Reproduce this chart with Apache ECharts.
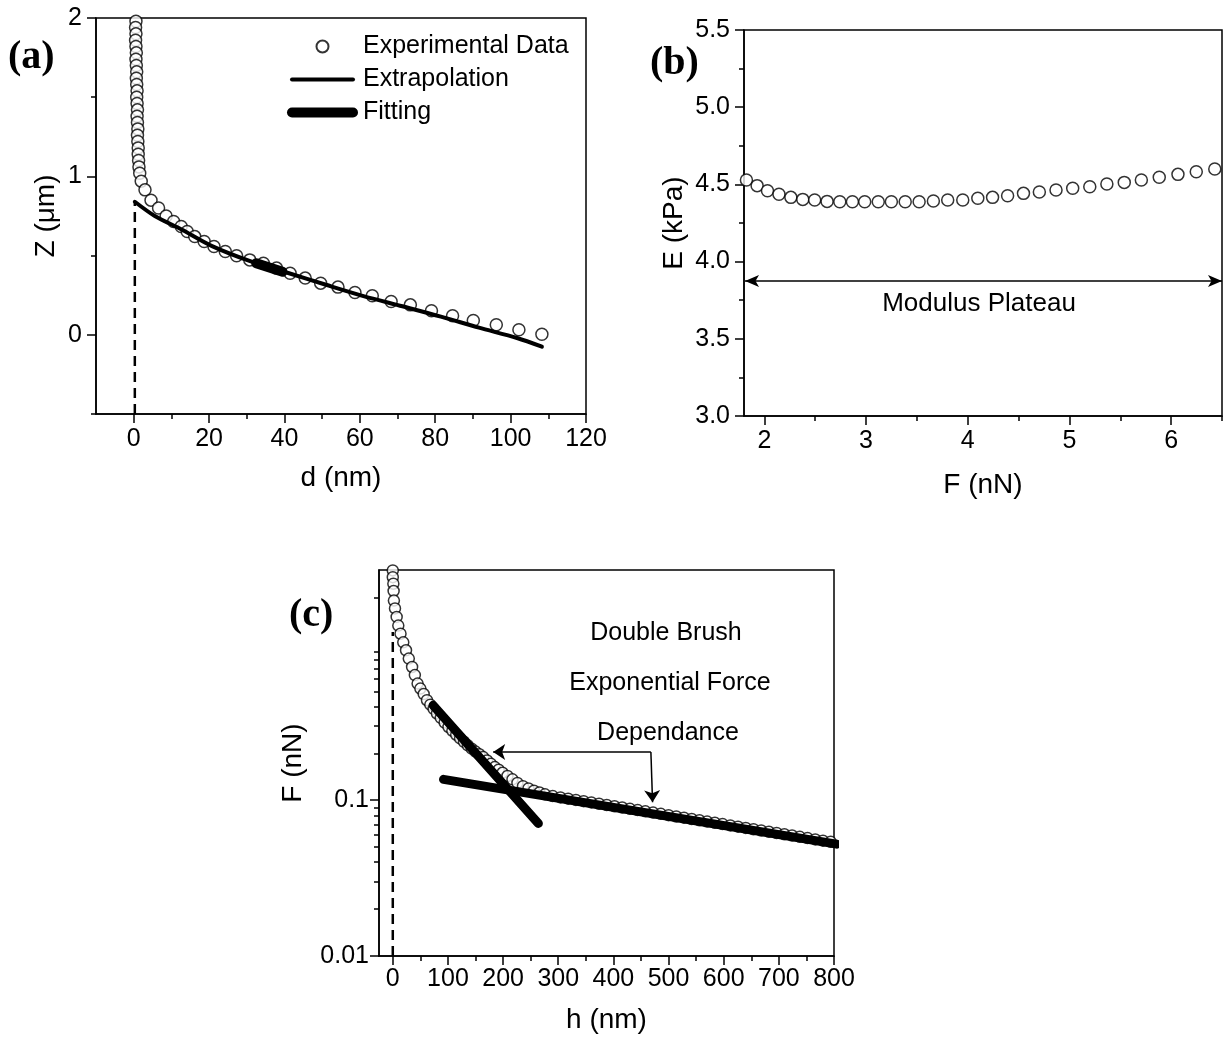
<!DOCTYPE html>
<html>
<head>
<meta charset="utf-8">
<script src="https://cdn.jsdelivr.net/npm/echarts@6.0.0/dist/echarts.min.js"></script>
<style>
  html, body { margin: 0; padding: 0; background: #fff; }
  #chart { width: 1223px; height: 1045px; }
</style>
</head>
<body>
<div id="chart"></div>
<script>
// ---- panel (a): Z vs d ----
var expA = [
    [0.6,1.98],[0.5,1.94],[0.6,1.90],[0.5,1.86],[0.6,1.82],[0.7,1.78],[0.6,1.74],[0.7,1.70],
    [0.8,1.66],[0.7,1.62],[0.8,1.58],[0.9,1.54],[0.8,1.50],[0.9,1.46],[1.0,1.42],[0.9,1.38],
    [1.0,1.34],[1.1,1.30],[1.0,1.26],[1.1,1.22],[1.2,1.18],[1.2,1.14],[1.3,1.10],[1.4,1.06],
    [1.6,1.02],[2.0,0.97],[3.0,0.915],[4.6,0.85],[6.6,0.80],[8.6,0.75],[10.6,0.715],[12.6,0.684],
    [14.2,0.652],[16.2,0.62],[18.7,0.589],[21.3,0.557],[24.3,0.526],[27.3,0.499],[30.8,0.473],
    [34.4,0.452],[37.9,0.421],[41.5,0.389],[45.5,0.358],[49.6,0.326],[54.2,0.301],[58.7,0.267],
    [63.3,0.246],[68.3,0.21],[73.4,0.189],[79,0.152],[84.6,0.12],[90.1,0.09],[96.2,0.063],
    [102.2,0.032],[108.3,0.004]
];
var extrapA = [
    [0.3,0.84],[5.6,0.75],[12.7,0.665],[20.8,0.56],[30.9,0.465],[41,0.39],[51,0.316],
    [61.2,0.243],[71.3,0.18],[81.5,0.115],[91.6,0.045],[101.7,-0.02],[108.3,-0.075]
];
var fitA = [[32.5,0.452],[39.5,0.398]];
var zeroLineA = [[0.3,-0.5],[0.3,0.84]];
var xTicksA = [0,20,40,60,80,100,120];
var xMinorA = [10,30,50,70,90,110];
var yTicksA = [0,1,2];
var yMinorA = [-0.5,0.5,1.5];

// ---- panel (b): E vs F ----
var forceB = [1.824,1.929,2.031,2.144,2.261,2.378,2.495,2.617,2.742,2.866,2.987,3.120,3.249,
    3.385,3.522,3.662,3.803,3.951,4.099,4.244,4.392,4.548,4.704,4.868,5.032,5.200,5.368,5.539,
    5.707,5.883,6.067,6.247,6.429];
var modulusB = [4.528,4.492,4.459,4.436,4.416,4.403,4.399,4.390,4.388,4.388,4.388,4.388,4.388,
    4.388,4.388,4.393,4.399,4.399,4.410,4.416,4.427,4.442,4.451,4.464,4.475,4.485,4.503,4.513,
    4.528,4.546,4.565,4.582,4.600];
var plateauB = [[1.81,3.875],[6.5,3.875]];
var xTicksB = [2,3,4,5,6];
var xMinorB = [2.5,3.5,4.5,5.5,6.5];

// ---- panel (c): F vs h (log) ----
var expC = [
    [0,2.98],[0,2.7],[1,2.45],[1.5,2.2],[2,1.91],[4,1.7],[7,1.5],[10,1.32],[14,1.17],[19,1.03],
    [24,0.916],[29,0.81],[35,0.716],[40,0.635],[45,0.56],[50,0.52],[56,0.48],[62,0.438],[68,0.41],
    [74,0.385],[80,0.36],[87,0.337],[94,0.315],[101,0.295],[108,0.279],[115,0.263],[122,0.249],
    [129,0.237],[136,0.225],[143,0.214],[150,0.205],[157,0.197],[164,0.189],[171,0.18],[178,0.171],
    [185,0.163],[192,0.157],[199,0.15],[208,0.143],[217,0.136],[226,0.129],[236,0.123],[246,0.119],
    [256,0.115],[266,0.112],[276,0.109],[290,0.1062],[304,0.1042],[318,0.1023],[332,0.1004],
    [346,0.0986],[360,0.0967],[374,0.0949],[388,0.0931],[402,0.0914],[416,0.0897],[430,0.088],
    [444,0.0864],[458,0.0848],[472,0.0832],[486,0.0817],[500,0.0801],[514,0.0786],[528,0.0772],
    [542,0.0757],[556,0.0743],[570,0.0729],[584,0.0716],[598,0.0702],[612,0.0689],[626,0.0676],
    [640,0.0664],[654,0.0651],[668,0.0639],[682,0.0627],[696,0.0616],[710,0.0604],[724,0.0593],
    [738,0.0582],[752,0.0571],[766,0.056],[780,0.055],[794,0.054]
];
var fit1C = [[73,0.406],[264,0.0709]];
var fit2C = [[92,0.136],[805,0.0522]];
var zeroLineC = [[0,0.01],[0,1.2]];
var arrowCorner = [468,0.204];
var arrowLeft = [182,0.204];
var arrowDown = [471,0.097];
var xTicksC = [0,100,200,300,400,500,600,700,800];
var xMinorC = [50,150,250,350,450,550,650,750];
var yTicksC = [0.01,0.1];
var yMinorC = [0.02,0.03,0.04,0.05,0.06,0.07,0.08,0.09,0.2,0.3,0.4,0.5,0.6,0.7,0.8,0.9,2];

var FONT = '"Liberation Sans", Arial, sans-serif';
var BLACK = '#000';

function mainAxis(o) {
    var ax = {
        type: o.type || 'value',
        gridIndex: o.grid,
        position: o.position,
        min: o.min, max: o.max,
        name: o.name,
        nameLocation: 'middle',
        nameGap: o.nameGap,
        nameRotate: o.nameRotate,
        nameTextStyle: {fontFamily: FONT, fontSize: 28, color: BLACK},
        axisLine: {show: true, onZero: false, lineStyle: {color: BLACK, width: 1.5}},
        axisTick: {show: true, inside: false, length: 9, lineStyle: {color: BLACK, width: 1.5}},
        axisLabel: {fontFamily: FONT, fontSize: 25, color: BLACK, margin: o.margin,
            formatter: o.formatter},
        splitLine: {show: false}
    };
    if (o.ticks) {
        ax.axisTick.customValues = o.ticks;
        ax.axisLabel.customValues = o.ticks;
    }
    if (o.interval) ax.interval = o.interval;
    if (o.minor) {
        ax.minorTick = {show: true, splitNumber: o.minor, length: 5, lineStyle: {color: BLACK, width: 1.5}};
    }
    if (o.type === 'log') ax.logBase = 10;
    return ax;
}

function minorAxis(o) {
    return {
        type: o.type || 'value',
        gridIndex: o.grid,
        position: o.position,
        min: o.min, max: o.max,
        logBase: 10,
        axisLine: {show: false, onZero: false},
        axisTick: {show: true, inside: false, length: 5, customValues: o.ticks,
            lineStyle: {color: BLACK, width: 1.5}},
        axisLabel: {show: false},
        splitLine: {show: false}
    };
}

var circleStyle = {color: '#fff', borderColor: BLACK, borderWidth: 1.5};

var myChart = echarts.init(document.getElementById('chart'));

var option = {
    backgroundColor: '#fff',
    animation: false,
    grid: [
        {left: 96, top: 18, width: 490, height: 396, show: true, borderColor: BLACK, borderWidth: 1.5},
        {left: 744, top: 30, width: 478, height: 386, show: true, borderColor: BLACK, borderWidth: 1.5},
        {left: 379, top: 570, width: 455, height: 386, show: true, borderColor: BLACK, borderWidth: 1.5}
    ],
    legend: {
        data: [
            {name: 'Experimental Data'},
            {name: 'Extrapolation', itemStyle: {opacity: 0}, lineStyle: {width: 4, color: BLACK}},
            {name: 'Fitting', itemStyle: {opacity: 0}, lineStyle: {width: 10, color: BLACK, cap: 'round'}}
        ],
        orient: 'vertical',
        left: 287, top: 34,
        itemWidth: 61, itemHeight: 12, itemGap: 8,
        padding: 0,
        selectedMode: false,
        textStyle: {fontFamily: FONT, fontSize: 25, color: BLACK, lineHeight: 24, padding: [0, 0, 0, 5]}
    },
    xAxis: [
        mainAxis({grid: 0, position: 'bottom', min: -10, max: 120, ticks: xTicksA, name: 'd (nm)',
            nameGap: 50, margin: 13}),
        minorAxis({grid: 0, position: 'bottom', min: -10, max: 120, ticks: xMinorA}),
        mainAxis({grid: 1, position: 'bottom', min: 1.8, max: 6.5, ticks: xTicksB, name: 'F (nN)',
            nameGap: 55, margin: 13}),
        minorAxis({grid: 1, position: 'bottom', min: 1.8, max: 6.5, ticks: xMinorB}),
        mainAxis({grid: 2, position: 'bottom', min: -25, max: 800, ticks: xTicksC, name: 'h (nm)',
            nameGap: 50, margin: 11}),
        minorAxis({grid: 2, position: 'bottom', min: -25, max: 800, ticks: xMinorC})
    ],
    yAxis: [
        mainAxis({grid: 0, position: 'left', min: -0.5, max: 2, ticks: yTicksA, name: 'Z (\u03bcm)',
            nameGap: 36, nameRotate: 90, margin: 14}),
        minorAxis({grid: 0, position: 'left', min: -0.5, max: 2, ticks: yMinorA}),
        mainAxis({grid: 1, position: 'left', min: 3, max: 5.5, interval: 0.5, minor: 2, name: 'E (kPa)',
            nameGap: 56, nameRotate: 90, margin: 14,
            formatter: function (v) { return v.toFixed(1); }}),
        mainAxis({grid: 2, type: 'log', position: 'left', min: 0.01, max: 3, ticks: yTicksC, name: 'F (nN)',
            nameGap: 72, nameRotate: 90, margin: 10,
            formatter: function (v) { return String(v); }}),
        minorAxis({grid: 2, type: 'log', position: 'left', min: 0.01, max: 3, ticks: yMinorC})
    ],
    series: [
        // (a)
        {name: 'Experimental Data', type: 'scatter', xAxisIndex: 0, yAxisIndex: 0,
            data: expA, symbol: 'circle', symbolSize: 12, itemStyle: circleStyle, z: 2},
        {name: 'Extrapolation', type: 'line', xAxisIndex: 0, yAxisIndex: 0, data: extrapA,
            smooth: 0.3, showSymbol: false, symbol: 'none', clip: false,
            lineStyle: {color: BLACK, width: 4, cap: 'round'}, itemStyle: {color: BLACK}, z: 3},
        {name: 'Fitting', type: 'line', xAxisIndex: 0, yAxisIndex: 0, data: fitA,
            showSymbol: false, symbol: 'none',
            lineStyle: {color: BLACK, width: 10, cap: 'round'}, itemStyle: {color: BLACK}, z: 4},
        {name: 'zeroA', type: 'line', xAxisIndex: 0, yAxisIndex: 0, data: zeroLineA,
            showSymbol: false, symbol: 'none',
            lineStyle: {color: BLACK, width: 2.5, type: [10, 6]}, z: 1},
        // (b)
        {name: 'modulus', type: 'scatter', xAxisIndex: 2, yAxisIndex: 2,
            data: forceB.map(function (f, i) { return [f, modulusB[i]]; }),
            symbol: 'circle', symbolSize: 12, itemStyle: circleStyle, clip: false, z: 2,
            markLine: {
                silent: true, symbol: ['arrow', 'arrow'], symbolSize: [9, 14],
                lineStyle: {color: BLACK, width: 1.5, type: 'solid'},
                label: {show: false},
                data: [[{coord: plateauB[0]}, {coord: plateauB[1]}]]
            }},
        // (c)
        {name: 'forceC', type: 'scatter', xAxisIndex: 4, yAxisIndex: 3, data: expC,
            symbol: 'circle', symbolSize: 11, itemStyle: circleStyle, clip: false, z: 2},
        {name: 'fit1C', type: 'line', xAxisIndex: 4, yAxisIndex: 3, data: fit1C,
            showSymbol: false, symbol: 'none', clip: false,
            lineStyle: {color: BLACK, width: 9, cap: 'round'}, z: 3},
        {name: 'fit2C', type: 'line', xAxisIndex: 4, yAxisIndex: 3, data: fit2C,
            showSymbol: false, symbol: 'none', clip: false,
            lineStyle: {color: BLACK, width: 9, cap: 'round'}, z: 3},
        {name: 'zeroC', type: 'line', xAxisIndex: 4, yAxisIndex: 3, data: zeroLineC,
            showSymbol: false, symbol: 'none',
            lineStyle: {color: BLACK, width: 2.5, type: [10, 6]}, z: 1},
        {name: 'arrowC', type: 'line', xAxisIndex: 4, yAxisIndex: 3, data: [],
            z: 6,
            markLine: {
                silent: true, symbol: ['none', 'arrow'], symbolSize: 12,
                lineStyle: {color: BLACK, width: 1.5, type: 'solid'},
                label: {show: false},
                data: [
                    [{coord: arrowCorner}, {coord: arrowLeft}],
                    [{coord: arrowCorner}, {coord: arrowDown}]
                ]
            }}
    ],
    graphic: [
        {type: 'text', left: 8, top: 38, style: {text: '(a)', font: 'bold 40px "Liberation Serif", serif', fill: BLACK}},
        {type: 'text', left: 650, top: 44, style: {text: '(b)', font: 'bold 40px "Liberation Serif", serif', fill: BLACK}},
        {type: 'text', left: 289, top: 596, style: {text: '(c)', font: 'bold 40px "Liberation Serif", serif', fill: BLACK}},
        {type: 'text', x: 979, y: 304, style: {text: 'Modulus Plateau', font: '26px ' + FONT, fill: BLACK,
            align: 'center', verticalAlign: 'middle'}},
        {type: 'text', x: 666, y: 633, style: {text: 'Double Brush', font: '25px ' + FONT, fill: BLACK,
            align: 'center', verticalAlign: 'middle'}},
        {type: 'text', x: 670, y: 683, style: {text: 'Exponential Force', font: '25px ' + FONT, fill: BLACK,
            align: 'center', verticalAlign: 'middle'}},
        {type: 'text', x: 668, y: 733, style: {text: 'Dependance', font: '25px ' + FONT, fill: BLACK,
            align: 'center', verticalAlign: 'middle'}}
    ]
};

myChart.setOption(option);
</script>
</body>
</html>
